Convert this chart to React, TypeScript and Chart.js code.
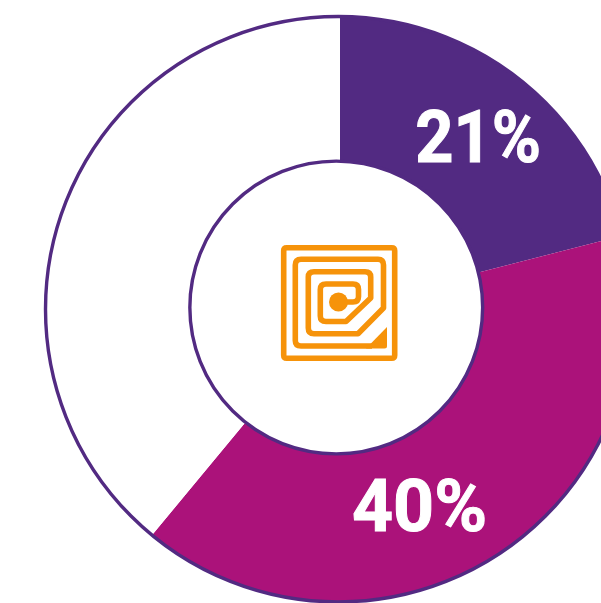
import React, { useEffect, useRef } from "react";
import { Chart, registerables } from "chart.js";

Chart.register(...registerables);

const categories = ["A", "B", "C"];
const shares = [21, 40, 39];
const sliceColors = ["#522A82", "#AB127A", "#FFFFFF"];
const labels = ["21%", "40%"];
const OUTLINE = "#522A82";
const ORANGE = "#F6930A";

// outline rings sit slightly off the slices' centre: x, y, radius
const OUTER = [338.25, 309.25, 292.75];
const INNER = [336.25, 307.5, 146.4];
// label: centre x, baseline y, ink width
const LABEL_BOX = [
  [478, 162, 122],
  [419.5, 531, 131],
];

const ICON_STROKES = [
  "M286.7 247.7H391.7Q394.7 247.7 394.7 250.7V355.3Q394.7 358.3 391.7 358.3H286.7Q283.7 358.3 283.7 355.3V250.7Q283.7 247.7 286.7 247.7Z",
  "M338.5 302H353Q358.5 302 358.5 296.5V289.5Q358.5 284 353 284H326Q320.3 284 320.3 289.5V316Q320.3 321.5 326 321.5H346L370.7 298V277Q370.7 271.7 365 271.7H314Q308.3 271.7 308.3 277V328Q308.3 333.8 314 333.8H358L383.5 308V265Q383.5 259.3 378 259.3H301Q295.3 259.3 295.3 265V340.5Q295.3 346 301 346H372",
];
const ICON_CORNER = "M387 327V346Q387 348.5 384.5 348.5H366Z";

const ringPlugin = {
  id: "ring",
  beforeDatasetsDraw(chart: any) {
    const ctx = chart.ctx;
    ctx.save();
    const p = new Path2D();
    p.arc(OUTER[0], OUTER[1], OUTER[2], 0, Math.PI * 2);
    p.moveTo(INNER[0] + INNER[2], INNER[1]);
    p.arc(INNER[0], INNER[1], INNER[2], 0, Math.PI * 2);
    ctx.clip(p, "evenodd");
  },
  afterDatasetsDraw(chart: any) {
    const ctx = chart.ctx;
    ctx.restore();
    ctx.save();
    ctx.strokeStyle = OUTLINE;
    ctx.lineWidth = 3.4;
    for (const c of [INNER, OUTER]) {
      ctx.beginPath();
      ctx.arc(c[0], c[1], c[2], 0, Math.PI * 2);
      ctx.stroke();
    }
    ctx.fillStyle = "#FFFFFF";
    ctx.strokeStyle = "#FFFFFF";
    ctx.lineWidth = 1;
    ctx.font = "bold 72px Roboto";
    ctx.textBaseline = "alphabetic";
    labels.forEach((t, i) => {
      const [cx, base, w] = LABEL_BOX[i];
      const m = ctx.measureText(t);
      const ink = m.actualBoundingBoxLeft + m.actualBoundingBoxRight;
      const s = w / ink;
      ctx.save();
      ctx.translate(cx - w / 2, base);
      ctx.scale(s, 1);
      ctx.fillText(t, m.actualBoundingBoxLeft, 0);
      ctx.strokeText(t, m.actualBoundingBoxLeft, 0);
      ctx.restore();
    });
    ctx.strokeStyle = ORANGE;
    ctx.fillStyle = ORANGE;
    ctx.lineWidth = 5.6;
    ctx.lineJoin = "round";
    for (const d of ICON_STROKES) ctx.stroke(new Path2D(d));
    ctx.beginPath();
    ctx.arc(338.5, 302, 9.5, 0, Math.PI * 2);
    ctx.fill();
    ctx.fill(new Path2D(ICON_CORNER));
    ctx.restore();
  },
};

export default function App() {
  const ref = useRef<HTMLCanvasElement>(null);
  useEffect(() => {
    const chart = new Chart(ref.current!, {
      type: "doughnut",
      data: {
        labels: categories,
        datasets: [{ data: shares, backgroundColor: sliceColors, borderWidth: 0 }],
      },
      options: {
        animation: false,
        responsive: false,
        cutout: "48%",
        layout: { padding: 10 },
        plugins: { legend: { display: false }, tooltip: { enabled: false } },
      },
      plugins: [ringPlugin],
    } as any);
    return () => chart.destroy();
  }, []);
  return (
    <div style={{ position: "fixed", left: 0, top: 0, width: 601, height: 603, overflow: "hidden", background: "#fff" }}>
      <canvas ref={ref} width={680} height={616} style={{ display: "block" }} />
    </div>
  );
}
